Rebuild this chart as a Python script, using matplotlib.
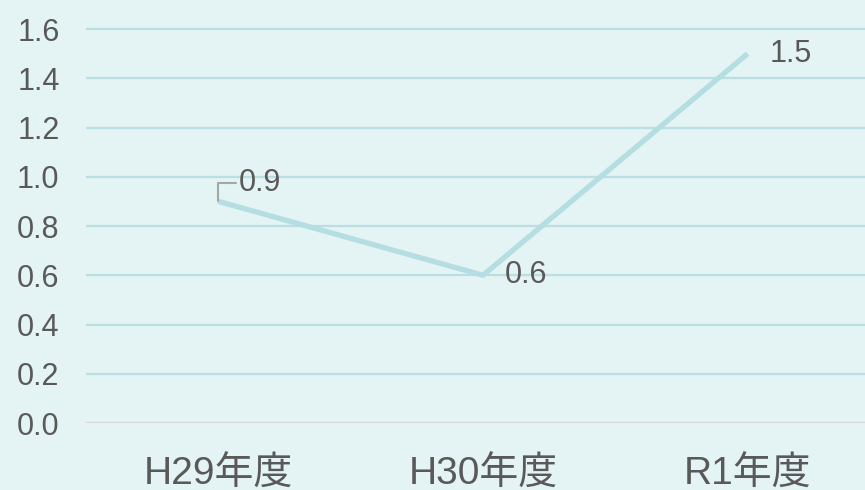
import matplotlib
matplotlib.use("Agg")
import matplotlib.pyplot as plt

# data
categories = ["H29年度", "H30年度", "R1年度"]
values = [0.9, 0.6, 1.5]
y_ticks = [0.0, 0.2, 0.4, 0.6, 0.8, 1.0, 1.2, 1.4, 1.6]

plt.rcParams["font.family"] = ["Liberation Sans", "Noto Sans CJK JP", "DejaVu Sans"]

bg = "#e4f3f3"
text_col = "#595959"
line_col = "#b4dee1"
grid_col = "#b9dfe3"

fig = plt.figure(figsize=(8.65, 4.9), dpi=100, facecolor=bg)
# y range 0..1.65 so the top grid line is not clipped
ax = fig.add_axes([86 / 865, 67 / 490, 794 / 865, (394 * 1.65 / 1.6) / 490])
ax.set_facecolor(bg)

x = list(range(len(categories)))
ax.plot(x, values, color=line_col, linewidth=3.8, solid_capstyle="butt", zorder=3)

ax.set_xlim(-0.5, 2.5)
ax.set_ylim(0, 1.65)
ax.set_yticks(y_ticks)
ax.set_yticklabels([f"{v:.1f}" for v in y_ticks])
ax.set_xticks(x)
ax.set_xticklabels(categories)

for s in ax.spines.values():
    s.set_visible(False)
ax.yaxis.grid(True, color=grid_col, linewidth=1.6)
ax.set_axisbelow(True)
ax.axhline(0, color="#d6d6d6", linewidth=2.2, zorder=2)

ax.tick_params(axis="y", length=0, labelsize=22, labelcolor=text_col, pad=19)
ax.tick_params(axis="x", length=0, labelsize=28, labelcolor=text_col, pad=24)

# data labels
for i, v in enumerate(values):
    if i == 0:
        ax.annotate(f"{v:.1f}", xy=(i, v), xytext=(15, 13), textcoords="offset points",
                    fontsize=22, color=text_col, va="center", ha="left",
                    arrowprops=dict(arrowstyle="-", color="#a6a6a6", lw=1.5,
                                    connectionstyle="angle,angleA=0,angleB=90,rad=0",
                                    shrinkA=0, shrinkB=0, relpos=(0, 0.5)))
    else:
        ax.annotate(f"{v:.1f}", xy=(i, v), xytext=(16, 0), textcoords="offset points",
                    fontsize=22, color=text_col, va="center", ha="left")

fig.savefig("out.png", dpi=100, facecolor=bg)
